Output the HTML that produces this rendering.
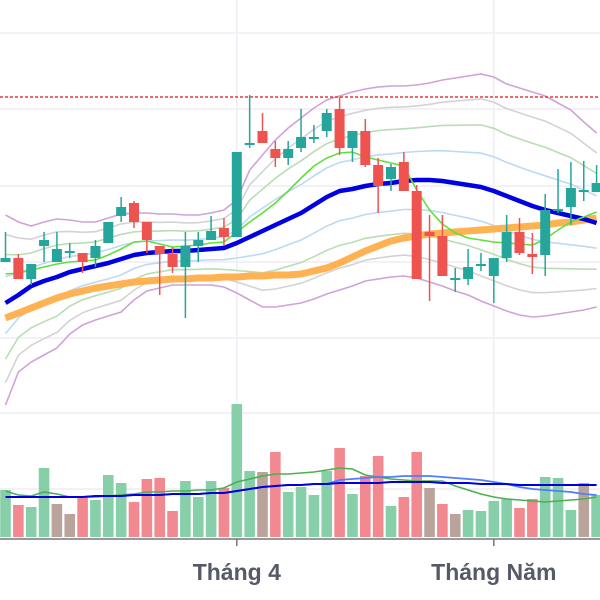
<!DOCTYPE html>
<html><head><meta charset="utf-8"><style>
html,body{margin:0;padding:0;background:#fff;width:600px;height:600px;overflow:hidden}
svg{display:block}
text{font-family:"Liberation Sans",sans-serif}
</style></head><body>
<svg id="chart" width="600" height="600" viewBox="0 0 600 600">
<g id="grid"></g>
<g id="bands"></g>
<g id="vol"></g>
<g id="ma"></g>
<g id="candles"></g>
<g id="axis"></g>
</svg>
<script>
const opens=[238,242,221,254,238,248,247,242,257,284,297,278,254,246,233,254,260,272,263,356,369,351,342,352,362,369,391,352,369,335,321,338,309,268,264,221,221,235,224,242,268,246,245,290,293,309,308];
const highs=[268,246,236,268,268,257,247,260,278,303,299,278,254,253,268,268,284,282,348,405,387,359,359,391,375,391,403,369,381,342,336,348,315,285,285,232,251,247,242,285,282,267,306,331,338,339,335];
const lows=[238,221,215,238,238,242,227,233,257,278,272,247,205,227,182,238,260,254,263,352,357,333,335,348,357,363,345,338,333,287,309,309,221,199,224,208,215,229,197,238,245,226,224,287,275,299,308];
const closes=[242,221,236,260,251,249,238,254,278,293,278,260,246,233,254,260,269,263,348,357,357,342,351,363,363,387,352,369,335,314,333,309,221,264,224,222,233,236,242,268,247,243,290,291,312,310,317];
const maMid=[197,205,214,219,223,228,231,234,237,241,245,247,248,249,249,250,251,252,257,263,269,275,281,287,295,303,309,311,314,316,317,319,320,320,319,317,315,313,309,304,299,294,290,287,284,281,277];
const maLong=[182,187,192,197,202,206,209,212,214,216,218,219,220,221,221,222,222,223,223,224,224,225,225,226,229,232,237,243,249,254,259,262,264,266,267,268,269,270,271,272,273,274,275,277,278,280,282];
const maShort=[226,227,230,233,236,238,239,240,245,251,258,259,256,253,254,255,257,258,268,278,287,297,309,322,334,342,347,348,343,340,337,334,310,290,276,267,262,260,258,257,256,255,261,270,278,283,288];
const bandUpper=[285,278,274,278,281,280,278,278,282,286,287,287,286,286,285,285,287,290,300,330,345,360,372,382,392,400,404,408,411,413,414,414,415,417,420,422,424,426,423,416,412,408,404,397,390,378,367];
const bandLower=[95,128,138,145,152,166,175,180,184,188,200,209,212,215,215,215,215,213,207,200,193,193,195,197,201,206,210,214,219,221,223,224,222,218,214,209,205,199,194,189,185,183,184,186,188,190,193];
const volumes=[47,32,30,69,33,23,40,37,62,54,35,58,59,26,56,40,56,49,133,66,65,85,45,50,42,66,89,43,61,81,31,40,85,49,33,23,27,26,36,38,29,38,60,59,27,54,42];
const volDir="grggbbrgggrrrrgggrggbrggggrgrrgrrbrbggggrrgggbg";
const volMaShort=[46,42,41,45,43,40,40,40,41,42,43,45,45,46,46,47,47,49,55,58,61,63,63,64,65,67,69,68,62,60,58,57,56,56,56,51,47,43,40,38,37,36,35,36,37,38,40];
const volMaLong=[40,40,40,40,40,40,40,41,41,41,42,42,42,43,43,43,44,44,46,48,50,51,52,52,53,53,54,54,54,54,55,55,55,55,54,54,54,53,53,53,52,52,52,52,52,52,52];
const volMaMid=[40,40,40,40,40,40,40,41,41,41,42,42,42,43,43,43,44,44,46,48,50,51,52,52,53,53,57,58,59,60,60,61,61,61,60,59,58,57,55,53,50,48,47,46,45,43,42];
const tickLabels=["Tháng 4","Tháng Năm"];
const tickIdx=[18,38];
const refPrice=403;

const NS="http://www.w3.org/2000/svg";
const xS=i=>5.5+i*12.85;
const yS=p=>500-p;
const vS=v=>537-v;
function mk(tag,attrs,parent){const e=document.createElementNS(NS,tag);for(const k in attrs)e.setAttribute(k,attrs[k]);parent.appendChild(e);return e;}
const G=id=>document.getElementById(id);

[33,109,186,262,338,413,489].forEach(y=>{const l=mk('line',{x1:0,x2:600,y1:y,y2:y,stroke:'#eeeef4','stroke-width':1.5},G('grid'));

});
tickIdx.forEach(i=>{const l=mk('line',{x1:xS(i),x2:xS(i),y1:0,y2:538,stroke:'#eeeef4','stroke-width':1.5},G('grid'));

});

function path(vals,sc){return vals.map((v,i)=>(i?'L':'M')+xS(i).toFixed(1)+','+sc(v).toFixed(1)).join('');}
const bandDefs=[[1,'#cfa3d9'],[0.78,'#d3d3d3'],[0.55,'#b9ddb4'],[0.3,'#bcdaf3']];
bandDefs.forEach(([f,c])=>{
 const up=maMid.map((m,i)=>m+(bandUpper[i]-m)*f);
 const lo=maMid.map((m,i)=>m+(bandLower[i]-m)*f);
 const a=mk('path',{d:path(up,yS),fill:'none',stroke:c,'stroke-width':1.6},G('bands'));
 
 
 const b=mk('path',{d:path(lo,yS),fill:'none',stroke:c,'stroke-width':1.6},G('bands'));
 
 
});

const vc={g:'#86cfa8',r:'#f28990',b:'#b9a39a'};
volumes.forEach((v,i)=>{const r=mk('rect',{x:xS(i)-5.3,y:vS(v),width:10.6,height:v,fill:vc[volDir[i]]},G('vol'));

});
[[volMaShort,'#4caf50',1.6],[volMaMid,'#4f7dff',1.8],[volMaLong,'#0000dd',2]].forEach(([d,c,w])=>{
 const p=mk('path',{d:path(d,vS),fill:'none',stroke:c,'stroke-width':w},G('vol'));
 
 
});

const lo=mk('path',{d:path(maLong,yS),fill:'none',stroke:'#ffb251','stroke-width':7,'stroke-linejoin':'round'},G('ma'));


const mi=mk('path',{d:path(maMid,yS),fill:'none',stroke:'#0000e0','stroke-width':4.5,'stroke-linejoin':'round'},G('ma'));


const sh=mk('path',{d:path(maShort,yS),fill:'none',stroke:'#5fe03a','stroke-width':1.6},G('ma'));


const ref=mk('line',{x1:0,x2:600,y1:yS(refPrice),y2:yS(refPrice),stroke:'#e53935','stroke-width':1.5,'stroke-dasharray':'3,2'},G('ma'));



opens.forEach((o,i)=>{
 const c=closes[i],up=c>=o,col=up?'#26a69a':'#ef5350',x=xS(i);
 const g=mk('g',{},G('candles'));
 
 
 mk('line',{x1:x,x2:x,y1:yS(highs[i]),y2:yS(lows[i]),stroke:col,'stroke-width':1.5},g);
 const top=yS(Math.max(o,c)),h=Math.max(2,Math.abs(o-c));
 mk('rect',{x:x-5,y:top,width:10,height:h,fill:col},g);
});

const ax=mk('line',{x1:0,x2:600,y1:539,y2:539,stroke:'#777','stroke-width':1.5},G('axis'));


tickIdx.forEach((ti,k)=>{
 const t=mk('line',{x1:xS(ti),x2:xS(ti),y1:539,y2:546,stroke:'#777','stroke-width':1.5},G('axis'));
 
 
 const tx=mk('text',{x:xS(ti),y:580,'text-anchor':'middle','font-size':23,'font-weight':'bold',fill:'#555a66'},G('axis'));
 tx.textContent=tickLabels[k];
 
 
});
</script>
</body></html>
